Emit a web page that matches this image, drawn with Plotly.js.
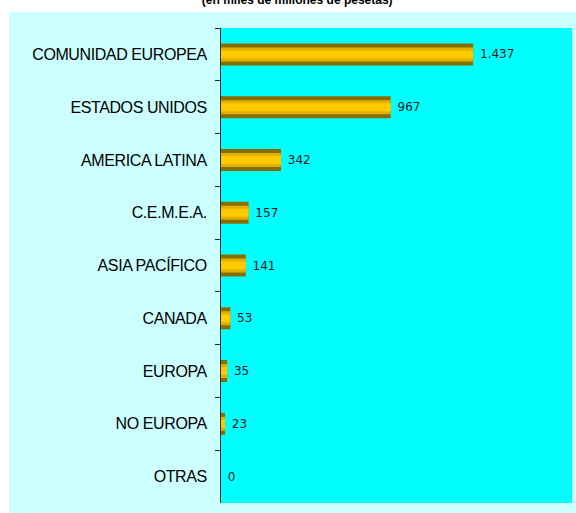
<!DOCTYPE html>
<html>
<head>
<meta charset="utf-8">
<script src="https://cdn.plot.ly/plotly-3.0.1.min.js"></script>
<style>
html,body{margin:0;padding:0;background:#fff;}
#chart{width:576px;height:513px;}
.yaxislayer-above text{letter-spacing:-0.4px;}
</style>
</head>
<body>
<div id="chart"></div>
<script>
const categories = ["COMUNIDAD EUROPEA","ESTADOS UNIDOS","AMERICA LATINA","C.E.M.E.A.","ASIA PACÍFICO","CANADA","EUROPA","NO EUROPA","OTRAS"];
const values = [1437, 967, 342, 157, 141, 53, 35, 23, 0];
const valueLabels = ["1.437","967","342","157","141","53","35","23","0"];
const titleText = "(en miles de millones de pesetas)";

const stripes = [
  {w:0.417, c:"#8a6d00", label:true},
  {w:0.265, c:"#e2b000", label:false},
  {w:0.15,  c:"#ffca00", label:false}
];
const traces = stripes.map(s => ({
  type:"bar", orientation:"h", x:values, y:categories,
  width:s.w, marker:{color:s.c, line:{width:0}}, hoverinfo:"skip",
  text: s.label ? valueLabels : undefined,
  texttemplate: s.label ? "\u00a0%{text}" : undefined,
  textposition: s.label ? "outside" : "none",
  cliponaxis:false,
  textfont:{family:"DejaVu Sans, Verdana, sans-serif", size:12, color:"#101818"}
}));

const layout = {
  width:576, height:513,
  margin:{l:221, r:4, t:28, b:10, pad:0},
  paper_bgcolor:"#ffffff",
  plot_bgcolor:"rgba(0,0,0,0)",
  barmode:"overlay",
  showlegend:false,
  title:{text:"<b>"+titleText+"</b>", x:0.516, xanchor:"center", yref:"container", y:0.992, yanchor:"bottom",
    font:{family:"Arial, Liberation Sans, sans-serif", size:12, color:"#000"}},
  xaxis:{range:[0,2000], showticklabels:false, showgrid:false, zeroline:false, showline:false, ticks:"", fixedrange:true},
  yaxis:{type:"category", autorange:false, range:[8.5,-0.5], showgrid:false, zeroline:false,
    showline:true, linecolor:"#333333", linewidth:1,
    ticks:"outside", ticklen:5, tickcolor:"#222222", tickwidth:1, tickson:"boundaries",
    ticklabelstandoff:10,
    tickfont:{family:"Arial, Liberation Sans, sans-serif", size:16, color:"#000"}},
  shapes:[
    {type:"rect", xref:"paper", yref:"paper", x0:-0.604, x1:1.02, y0:-0.03, y1:1.0337, fillcolor:"#ccffff", line:{width:0}, layer:"below"},
    {type:"rect", xref:"paper", yref:"paper", x0:0, x1:1, y0:0, y1:1, fillcolor:"#00ffff", line:{width:0}, layer:"below"}
  ]
};

Plotly.newPlot("chart", traces, layout, {displayModeBar:false, staticPlot:true});
</script>
</body>
</html>
